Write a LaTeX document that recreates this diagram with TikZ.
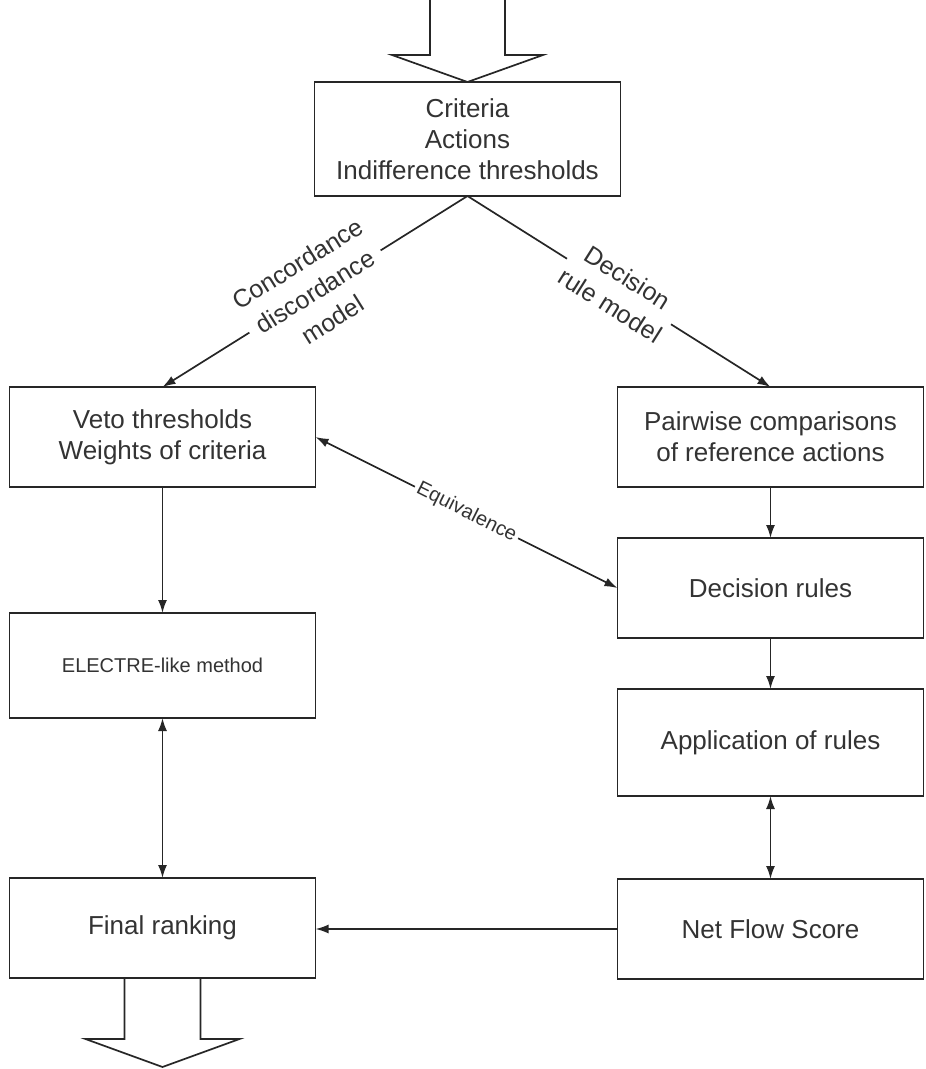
\documentclass[tikz,border=0pt]{standalone}
\usepackage{fontspec}
\setmainfont{Liberation Sans}
\usepackage{tikz}
\usetikzlibrary{positioning, arrows.meta}
\tikzstyle{box} = [rectangle, draw=black!85, line width=1.8pt, outer sep=0pt, minimum width=306pt, minimum height=100pt, align=center, text=black!80, font=\boxfont]
\tikzstyle{arrow} = [line width=1.7pt, draw=black!85, -{Latex[length=13pt,width=9pt]}]
\tikzstyle{dblarrow} = [line width=1.7pt, draw=black!85, {Latex[length=13pt,width=9pt]}-{Latex[length=13pt,width=9pt]}]
\tikzstyle{lbl} = [fill=white, sloped, align=center, text=black!80, inner sep=3pt]
\newcommand{\boxfont}{\fontsize{26}{31}\selectfont}
\newcommand{\lblfont}{\fontsize{25}{33}\selectfont}

\begin{document}
\begin{tikzpicture}
            \useasboundingbox (0,0) rectangle (926pt,-1069pt);
            \node (input) [box, minimum height=114pt] at (467.5pt,-139pt) {Criteria\\Actions\\Indifference thresholds};
            \node (veto) [box, below=191pt of input.south west, anchor=north east, xshift=1pt] {Veto thresholds\\Weights of criteria};
            \node (electre) [box, minimum height=105pt, below=126pt of veto, font=\fontsize{20}{24}\selectfont] {ELECTRE-like method};
            \node (final) [box, below=160pt of electre] {Final ranking};
            
            \node (pairwise) [box, below=191pt of input.south east, anchor=north west, xshift=-3pt] {Pairwise comparisons\\of reference actions};
            \node (rules) [box, below=51pt of pairwise] {Decision rules};
            \node (application) [box, minimum height=107pt, below=51pt of rules] {Application of rules};
            \node (netflow) [box, below=83pt of application] {Net Flow Score};
            
            % hollow arrows in and out
            \draw [line width=1.7pt, draw=black!85] (input.north) -- ++(-75.5pt,27pt) -- ++(38pt,0) -- ++(0,55pt);
            \draw [line width=1.7pt, draw=black!85] (input.north) -- ++(75.5pt,27pt) -- ++(-38pt,0) -- ++(0,55pt);
            \draw [line width=1.7pt, draw=black!85] ([xshift=-38pt]final.south) -- ++(0,-61pt) -- ++(-39pt,0) -- ++(77pt,-28pt) -- ++(77pt,28pt) -- ++(-39pt,0) -- ++(0,61pt);
            
            \draw [arrow] (input.south) -- (veto.north) node[midway, lbl, font=\lblfont] {Concordance\\discordance\\model};
            \draw [arrow] (input.south) -- (pairwise.north) node[midway, lbl, font=\lblfont] {Decision\\rule model};
            \draw [dblarrow] (veto.east) -- (rules.west) node[midway, lbl, font=\fontsize{20}{24}\selectfont] {Equivalence};
            
            \draw [arrow] (veto) -- (electre);
            \draw [dblarrow] (electre) -- (final);
            \draw [arrow] (pairwise) -- (rules);
            \draw [arrow] (rules) -- (application);
            \draw [dblarrow] (application) -- (netflow);
            \draw [arrow] (netflow.west) -- (netflow.west -| final.east);
        \end{tikzpicture}
\end{document}
